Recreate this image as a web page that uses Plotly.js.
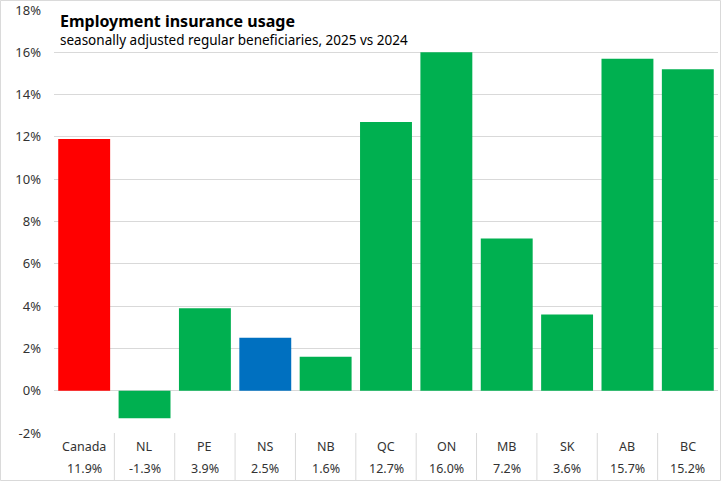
<!DOCTYPE html>
<html>
<head>
<meta charset="utf-8">
<script src="https://cdn.plot.ly/plotly-3.0.1.min.js"></script>
<style>html,body{margin:0;padding:0;background:#fff;}#chart{width:721px;height:481px;}</style>
</head>
<body>
<div id="chart"></div>
<script>
const categories = ["Canada","NL","PE","NS","NB","QC","ON","MB","SK","AB","BC"];
const values = [11.9,-1.3,3.9,2.5,1.6,12.7,16.0,7.2,3.6,15.7,15.2];
const barColors = ["#FF0000","#00B050","#00B050","#0070C0","#00B050","#00B050","#00B050","#00B050","#00B050","#00B050","#00B050"];
const yTicks = [-2,0,2,4,6,8,10,12,14,16,18];
const titleText = "Employment insurance usage";
const subtitleText = "seasonally adjusted regular beneficiaries, 2025 vs 2024";

const FONT = "Noto Sans, Lato, sans-serif";
const annotations = [];
categories.forEach((c,i)=>{
  annotations.push({x:i,y:-0.031,xref:'x',yref:'paper',text:c,showarrow:false,font:{family:FONT,size:12.5,color:'#333'},yanchor:'middle'});
  annotations.push({x:i,y:-0.083,xref:'x',yref:'paper',text:values[i].toFixed(1)+'%',showarrow:false,font:{family:FONT,size:12.5,color:'#333'},yanchor:'middle'});
});
annotations.push({x:0.006,y:0.975,xref:'paper',yref:'paper',xanchor:'left',yanchor:'middle',text:'<b>'+titleText+'</b>',showarrow:false,font:{family:FONT,size:16,color:'#000'}});
annotations.push({x:0.006,y:0.93,xref:'paper',yref:'paper',xanchor:'left',yanchor:'middle',text:subtitleText,showarrow:false,font:{family:FONT,size:13.5,color:'#000'}});

const shapes = [];
for(let i=0;i<categories.length-1;i++){
  shapes.push({type:'line',xref:'x',yref:'paper',x0:i+0.5,x1:i+0.5,y0:0,y1:-0.112,line:{color:'#d9d9d9',width:1}});
}
shapes.push({type:'rect',xref:'paper',yref:'paper',x0:-0.0806,x1:1.0038,y0:-0.1123,y1:1.0225,line:{color:'#d9d9d9',width:1}});

Plotly.newPlot('chart',[{
  type:'bar',x:categories.map((c,i)=>i),y:values,marker:{color:barColors},hoverinfo:'none'
}],{
  width:721,height:481,
  margin:{l:54,r:3,t:10,b:48},
  paper_bgcolor:'#fff',plot_bgcolor:'#fff',
  bargap:0.14,
  showlegend:false,
  xaxis:{range:[-0.5,10.5],showticklabels:false,showgrid:false,zeroline:false,ticks:'',fixedrange:true},
  yaxis:{range:[-2,18],tickvals:yTicks,ticktext:yTicks.map(v=>v+'%'),showgrid:true,gridcolor:'#d9d9d9',gridwidth:1,zeroline:true,zerolinecolor:'#d9d9d9',zerolinewidth:1,ticks:'',ticklabelstandoff:12,tickfont:{family:FONT,size:13,color:'#333'}},
  annotations:annotations,
  shapes:shapes
},{staticPlot:true});
</script>
</body>
</html>
